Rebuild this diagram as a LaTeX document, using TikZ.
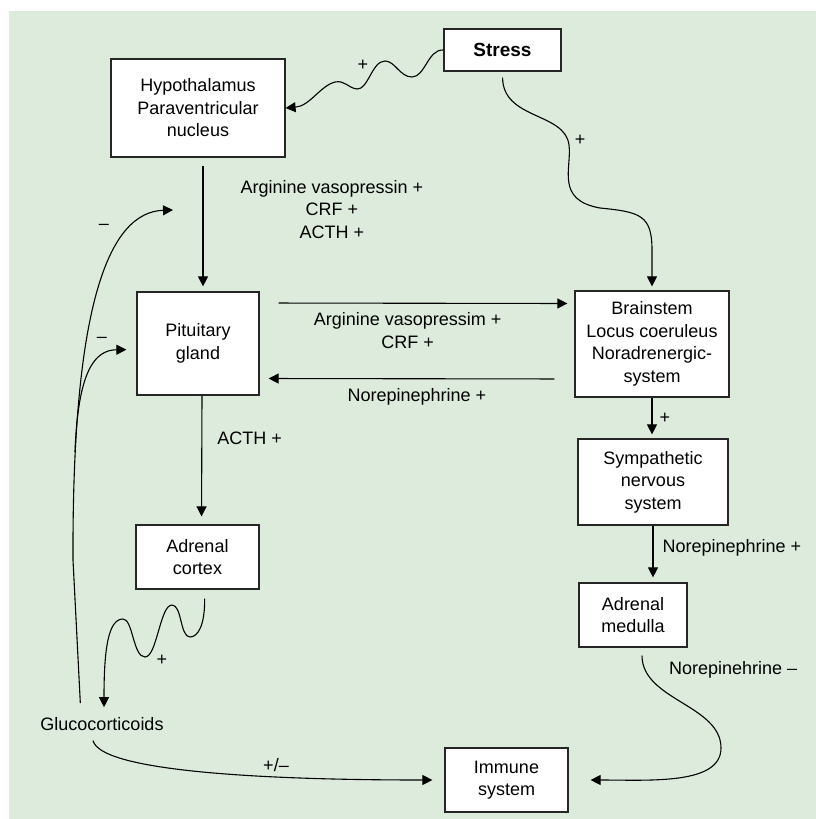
\documentclass[tikz,border=0pt]{standalone}
\usepackage{fontspec}
\setmainfont{Liberation Sans}
\usetikzlibrary{arrows.meta,positioning}
\definecolor{bggreen}{RGB}{221,235,221}

\begin{document}
\begin{tikzpicture}[x=1pt, y=-1pt,
			box/.style={draw=black!85, fill=white, line width=1.2pt, align=center, inner sep=0pt, font=\fontsize{18}{22.5}\selectfont},
			lbl/.style={align=center, inner sep=1pt, font=\fontsize{18}{22.5}\selectfont},
			arr/.style={-{Triangle[length=10pt,width=10pt]}, line width=1.1pt}]
			\useasboundingbox (0,0) rectangle (816,819);
			\fill[bggreen] (9,11) rectangle (816,819);
			% boxes
			\node[box, minimum width=117pt, minimum height=42pt, font=\fontsize{19}{22}\selectfont\bfseries] (stress) at (502.5,50) {Stress};
			\node[box, minimum width=174pt, minimum height=98pt] (hypo) at (198,108) {Hypothalamus\\Paraventricular\\nucleus};
			\node[box, minimum width=122pt, minimum height=103pt] (pit) at (198,343.5) {Pituitary\\gland};
			\node[box, minimum width=154pt, minimum height=106pt] (brain) at (652,344) {Brainstem\\Locus coeruleus\\Noradrenergic-\\system};
			\node[box, minimum width=150pt, minimum height=86pt] (symp) at (653,482) {Sympathetic\\nervous\\system};
			\node[box, minimum width=123pt, minimum height=64pt] (cortex) at (197.5,557) {Adrenal\\cortex};
			\node[box, minimum width=108pt, minimum height=64pt] (medulla) at (633,615) {Adrenal\\medulla};
			\node[box, minimum width=123pt, minimum height=64pt] (immune) at (506.5,780) {Immune\\system};
			\node[lbl] (gluco) at (102,724) {Glucocorticoids};
			\coordinate (split) at (75,452);
			\coordinate (fbtop) at (173,210);
			% stress
			\draw[arr] (stress.west) .. controls (428,49) and (425,77) .. (412,77)
				.. controls (400,77) and (395,61) .. (385,61)
				.. controls (372,61) and (368,90) .. (357,89)
				.. controls (348,88) and (345,80) .. (335,82)
				.. controls (320,86) and (310,106) .. (hypo.east);
			\node[lbl] (plus1) at (363,65) {+};
			\draw[arr, shorten <=6pt, shorten >=4pt] (stress.south) .. controls (503,120) and (565,112) .. (569,145)
				.. controls (572,168) and (555,200) .. (600,208)
				.. controls (640,212) and (652,215) .. (652,250) -- (brain.north);
			\node[lbl] (plus2) at (580,140) {+};
			% left column
			\draw[arr, shorten <=8pt, shorten >=5pt] ([xshift=5pt]hypo.south) -- node[lbl, pos=.385, right=36pt] (hormA) {Arginine vasopressin +\\CRF +\\ACTH +} ([xshift=5pt]pit.north);
			\draw[arr, shorten >=8pt] ([xshift=4pt]pit.south) -- node[lbl, pos=.33, right=14pt] (acth) {ACTH +} ([xshift=4pt]cortex.north);
			% between pituitary and brainstem
			\draw[arr, shorten <=19pt, shorten >=7pt] ([yshift=40.5pt]pit.east) -- node[lbl, pos=.47, below=8pt] (hormB) {Arginine vasopressim +\\CRF +} ([yshift=40.5pt]brain.west);
			\draw[arr, shorten <=20pt, shorten >=9pt] ([yshift=-35pt]brain.west) -- node[lbl, below=8pt] (norA) {Norepinephrine +} ([yshift=-35pt]pit.east);
			% right column
			\draw[arr, shorten >=4pt] (brain.south) -- node[lbl, right=6pt] (plus3) {+} (brain.south |- symp.north);
			\draw[arr, shorten >=5pt] (symp.south) -- node[lbl, pos=.4, right=8pt] (norB) {Norepinephrine +} (symp.south |- medulla.north);
			\draw[arr, shorten <=8pt, shorten >=22pt] ([xshift=9pt]medulla.south) .. controls (642,700) and (721,705) .. (721,748)
				.. controls (721,785) and (650,780) .. (immune.east);
			\node[lbl, anchor=west] (norC) at (668,670) {Norepinehrine --};
			% adrenal cortex to glucocorticoids
			\draw[arr, shorten <=9pt, shorten >=9pt] ([xshift=7pt]cortex.south) .. controls (205,625) and (198,637) .. (190,637)
				.. controls (180,637) and (182,605) .. (172,605)
				.. controls (160,605) and (157,657) .. (145,657)
				.. controls (133,657) and (133,619) .. (123,619)
				.. controls (108,619) and (104,650) .. ([xshift=2pt]gluco.north);
			\node[lbl] (plus4) at (162,660) {+};
			% feedback
			\draw[arr, shorten <=13pt] ([xshift=-21pt]gluco.north) -- (73,560) .. controls (72,300) and (110,212) .. (fbtop);
			\draw[arr, shorten >=10pt] (split) .. controls (78,370) and (95,350) .. ([yshift=-6pt]pit.west);
			\node[lbl] (minus1) at (104,227) {--};
			\node[lbl] (minus2) at (102,340) {--};
			\draw[arr, shorten <=9pt, shorten >=12pt] ([xshift=-11pt]gluco.south) .. controls (100,770) and (250,780) .. (immune.west);
			\node[lbl] (pm) at (276,765) {+/--};
		\end{tikzpicture}
\end{document}
